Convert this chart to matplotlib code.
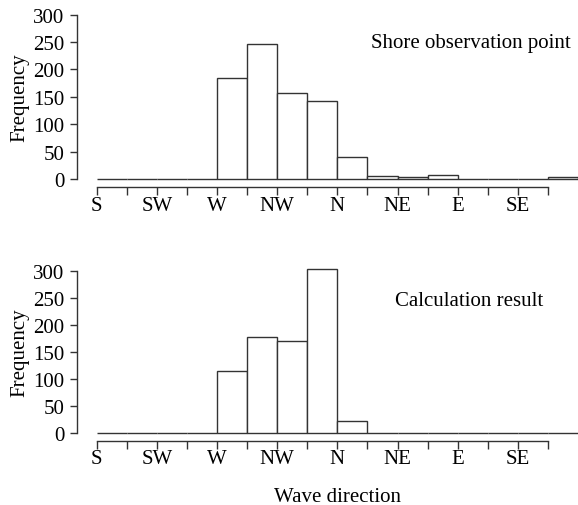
import numpy as np
import matplotlib
matplotlib.use('Agg')
import matplotlib.pyplot as plt
from matplotlib.ticker import FixedLocator

plt.rcParams['font.family'] = ['Liberation Serif', 'DejaVu Serif']
plt.rcParams['font.size'] = 15

# Datos (16 sectores de dirección, desde S)
direcciones = ['S', 'SW', 'W', 'NW', 'N', 'NE', 'E', 'SE']
frec_costa = [0, 0, 0, 0, 185, 247, 157, 142, 40, 5, 3, 8, 0, 0, 0, 3]
frec_calculo = [0, 0, 0, 0, 114, 177, 170, 305, 22, 0, 0, 0, 0, 0, 0, 0]
textos = ['Shore observation point', 'Calculation result']

color_linea = '#333333'
fig = plt.figure(figsize=(5.78, 5.06), dpi=100)
ax1 = fig.add_axes([0.1332, 0.6443, 0.8668, 0.3247])
ax2 = fig.add_axes([0.1332, 0.1429, 0.8668, 0.3190])

for ax, frec, txt in [(ax1, frec_costa, textos[0]),
                      (ax2, frec_calculo, textos[1])]:
    x = np.arange(len(frec))
    ax.bar(x, frec, width=1, align='edge', facecolor='white',
           edgecolor=color_linea, linewidth=1, clip_on=False)
    ax.set_xlim(-0.66, 16)
    ax.set_ylim(0, 300)
    ax.spines['top'].set_visible(False)
    ax.spines['right'].set_visible(False)
    ax.spines['bottom'].set_position(('outward', 6))
    ax.spines['bottom'].set_bounds(0, 15)
    ax.spines['left'].set_bounds(0, 300)
    for s in ['left', 'bottom']:
        ax.spines[s].set_color(color_linea)
        ax.spines[s].set_linewidth(1)
    ax.set_xticks(np.arange(0, 16, 2))
    ax.set_xticklabels(direcciones)
    ax.xaxis.set_minor_locator(FixedLocator(np.arange(1, 16, 2)))
    ax.set_yticks(np.arange(0, 301, 50))
    ax.tick_params(axis='x', which='both', length=6, width=1, color=color_linea, pad=0)
    ax.tick_params(axis='y', length=5, width=1, color=color_linea, pad=4)
    ax.set_ylabel('Frequency', labelpad=2.5)

ax1.text(0.985, 0.83, textos[0], transform=ax1.transAxes, ha='right', va='center')
ax2.text(0.93, 0.82, textos[1], transform=ax2.transAxes, ha='right', va='center')
ax2.set_xlabel('Wave direction')
ax2.xaxis.set_label_coords(0.519, -0.335)

fig.savefig('out.png', dpi=100)
